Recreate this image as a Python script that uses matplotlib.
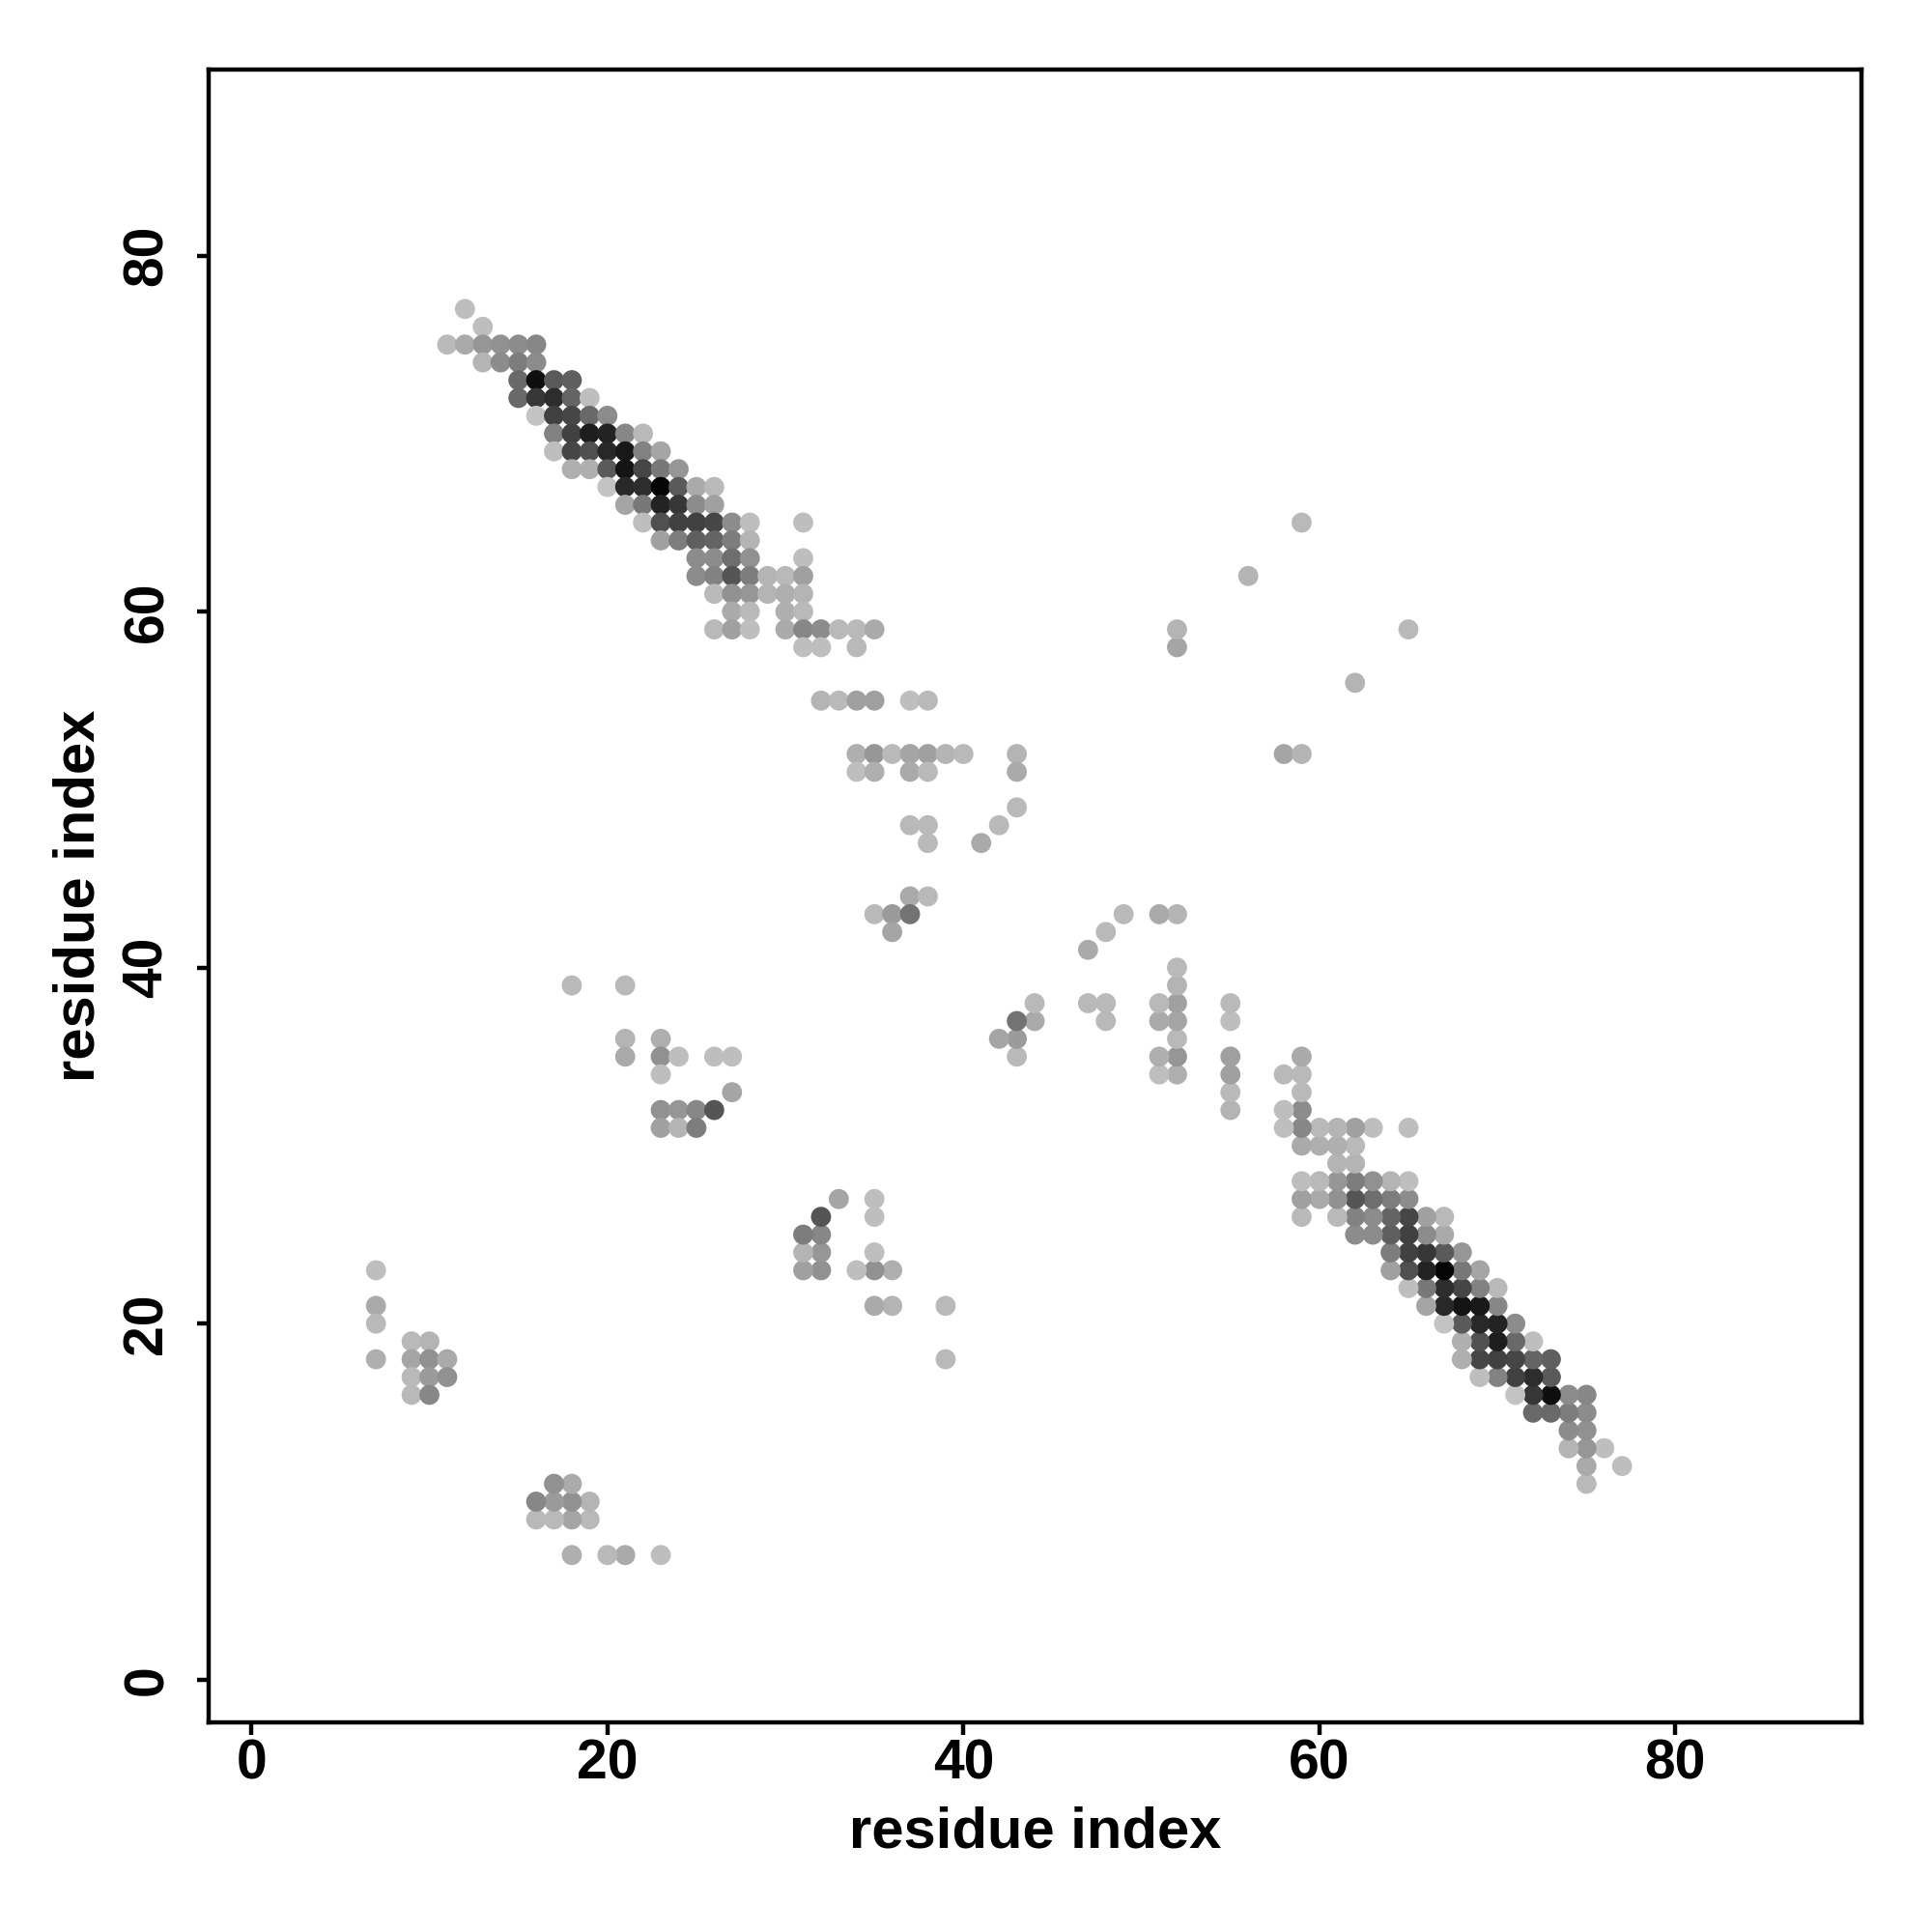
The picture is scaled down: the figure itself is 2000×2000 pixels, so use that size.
import numpy as np
import matplotlib
matplotlib.use("Agg")
import matplotlib.pyplot as plt

# contact map: upper triangle (j > i), grey level 0 (black) .. 255 (white)
# the map is symmetric, the lower triangle is drawn as the mirror image
res_i = [12, 13,
         11, 12, 13, 14, 15, 16,
         13, 14, 15, 16,
         15, 16, 17, 18,
         15, 16, 17, 18, 19,
         16, 17, 18, 19, 20,
         17, 18, 19, 20, 21, 22,
         17, 18, 19, 20, 21, 22, 23,
         18, 19, 20, 21, 22, 23, 24,
         20, 21, 22, 23, 24, 25, 26,
         21, 22, 23, 24, 25, 26,
         22, 23, 24, 25, 26, 27, 28, 31,
         23, 24, 25, 26, 27, 28,
         25, 26, 27, 28, 31,
         25, 26, 27, 28, 29, 30, 31,
         26, 27, 28, 29, 30, 31,
         27, 28, 30, 31,
         26, 27, 28, 30, 31, 32, 33, 34, 35,
         31, 32, 34,
         32, 33, 34, 35, 37, 38,
         34, 35, 36, 37, 38, 39, 40, 43,
         34, 35, 37, 38, 43,
         43,
         37, 38, 42,
         38, 41,
         37, 38,
         35, 36, 37,
         36,
         52, 52, 56, 59,
         18, 21,
         21, 23,
         21, 23, 24, 26, 27,
         23,
         27,
         23, 24, 25, 26,
         23, 24, 25,
         7, 7, 7, 7,
         9, 10,
         9, 10, 11,
         9, 10, 11,
         9, 10]

res_j = [77, 76,
         75, 75, 75, 75, 75, 75,
         74, 74, 74, 74,
         73, 73, 73, 73,
         72, 72, 72, 72, 72,
         71, 71, 71, 71, 71,
         70, 70, 70, 70, 70, 70,
         69, 69, 69, 69, 69, 69, 69,
         68, 68, 68, 68, 68, 68, 68,
         67, 67, 67, 67, 67, 67, 67,
         66, 66, 66, 66, 66, 66,
         65, 65, 65, 65, 65, 65, 65, 65,
         64, 64, 64, 64, 64, 64,
         63, 63, 63, 63, 63,
         62, 62, 62, 62, 62, 62, 62,
         61, 61, 61, 61, 61, 61,
         60, 60, 60, 60,
         59, 59, 59, 59, 59, 59, 59, 59, 59,
         58, 58, 58,
         55, 55, 55, 55, 55, 55,
         52, 52, 52, 52, 52, 52, 52, 52,
         51, 51, 51, 51, 51,
         49,
         48, 48, 48,
         47, 47,
         44, 44,
         43, 43, 43,
         42,
         58, 59, 62, 65,
         39, 39,
         36, 36,
         35, 35, 35, 35, 35,
         34,
         33,
         32, 32, 32, 32,
         31, 31, 31,
         23, 21, 20, 18,
         19, 19,
         18, 18, 18,
         17, 17, 17,
         16, 16]

grey = [190, 190,
        185, 170, 150, 145, 140, 135,
        180, 140, 125, 140,
        105, 15, 90, 95,
        105, 55, 45, 100, 190,
        195, 65, 70, 105, 140,
        130, 65, 30, 35, 135, 185,
        190, 70, 80, 40, 25, 130, 165,
        175, 175, 90, 20, 70, 120, 150,
        195, 40, 45, 5, 90, 170, 185,
        165, 120, 35, 55, 140, 160,
        190, 80, 65, 65, 70, 140, 190, 190,
        160, 125, 95, 100, 125, 180,
        140, 140, 110, 145, 190,
        140, 130, 85, 125, 180, 185, 160,
        185, 145, 150, 180, 175, 180,
        170, 185, 175, 185,
        185, 160, 190, 170, 135, 140, 185, 185, 170,
        190, 190, 185,
        180, 185, 160, 160, 190, 185,
        175, 150, 185, 165, 160, 180, 185, 180,
        190, 175, 170, 185, 170,
        185,
        185, 185, 185,
        185, 170,
        170, 185,
        185, 155, 115,
        165,
        165, 180, 180, 185,
        185, 185,
        180, 175,
        170, 145, 190, 190, 190,
        190,
        165,
        145, 150, 135, 85,
        160, 180, 125,
        190, 170, 185, 175,
        185, 180,
        165, 145, 170,
        185, 155, 145,
        185, 135]

i = np.array(res_i + res_j)
j = np.array(res_j + res_i)
g = np.array(grey + grey) / 255.0
colors = np.column_stack([g, g, g])

plt.rcParams['font.family'] = ['Liberation Sans', 'DejaVu Sans']
plt.rcParams['font.weight'] = 'bold'

fig = plt.figure(figsize=(10, 10), dpi=200)
ax = fig.add_axes([0.108, 0.1085, 0.8555, 0.8555])

ax.scatter(i, j, s=56, c=colors, edgecolors='none', zorder=2)

ax.set_xlim(-2.4, 90.45)
ax.set_ylim(-2.4, 90.45)
ax.set_xticks([0, 20, 40, 60, 80])
ax.set_yticks([0, 20, 40, 60, 80])
for sp in ax.spines.values():
    sp.set_linewidth(1.6)
ax.tick_params(axis='both', length=4.5, width=1.6, labelsize=20.5)
ax.tick_params(axis='x', pad=1.5)
ax.tick_params(axis='y', pad=8.5)
for lab in ax.get_yticklabels():
    lab.set_rotation(90)
    lab.set_va('center')
    lab.set_fontweight('bold')
for lab in ax.get_xticklabels():
    lab.set_fontweight('bold')

ax.set_xlabel('residue index', fontsize=21.5, fontweight='bold')
ax.set_ylabel('residue index', fontsize=21.5, fontweight='bold')
ax.xaxis.set_label_coords(0.5, -0.0503)
ax.yaxis.set_label_coords(-0.0625, 0.5)

fig.savefig('out.png', dpi=200, facecolor='white')
